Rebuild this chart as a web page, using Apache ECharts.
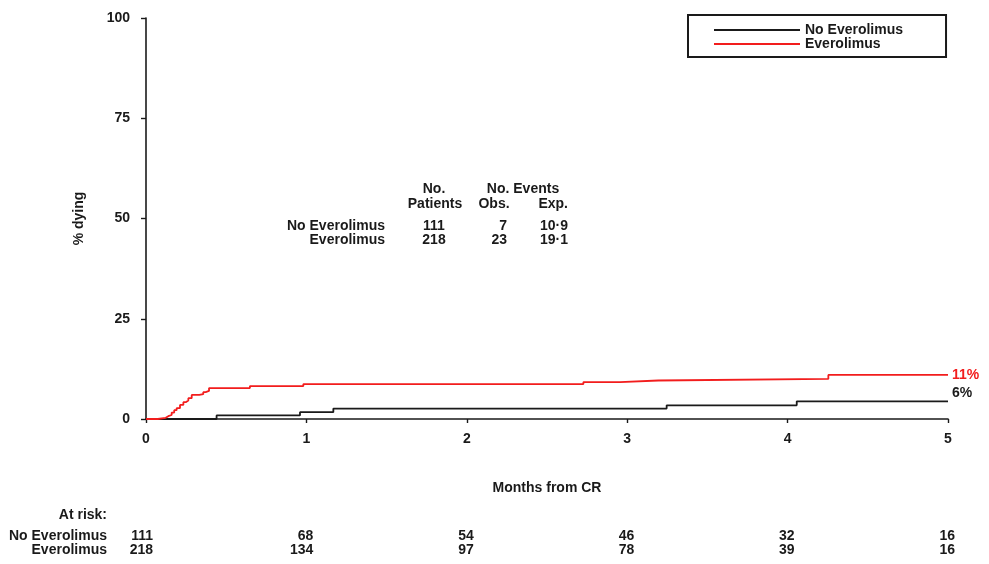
<!DOCTYPE html>
<html>
<head>
<meta charset="utf-8">
<script src="https://cdn.jsdelivr.net/npm/echarts@6/dist/echarts.min.js"></script>
<style>
  html, body { margin: 0; padding: 0; background: #fff; }
  #chart { width: 989px; height: 564px; }
</style>
</head>
<body>
<div id="chart"></div>
<script>
// Cumulative % dying by months from CR (Kaplan–Meier style step curves)
const monthTicks = [0, 1, 2, 3, 4, 5];

const noEveTime = [0, 0.44, 0.96, 1.168, 3.246, 4.057, 5];
const noEvePct  = [0, 0.9, 1.7, 2.6, 3.4, 4.4, 4.4];

const eveTime = [0, 0.073, 0.123, 0.139, 0.160, 0.176, 0.191, 0.212, 0.233, 0.248, 0.264, 0.285,
                 0.332, 0.357, 0.372, 0.393, 0.648, 0.981, 2.727, 2.955, 3.194, 4.254, 5];
const evePct  = [0, 0.3, 0.7, 1.0, 1.6, 2.2, 2.7, 3.5, 4.2, 4.6, 5.2, 6.0,
                 6.2, 6.7, 7.0, 7.7, 8.2, 8.7, 9.2, 9.6, 10.0, 11.0, 11.0];

// Final percentages printed at the right end of each curve
const endLabelText  = ['11%', '6%'];
const endLabelValue = [11, 6];

// Numbers at risk at each month
const groups     = ['No Everolimus', 'Everolimus'];
const atRiskNo   = [111, 68, 54, 46, 32, 16];
const atRiskEve  = [218, 134, 97, 78, 39, 16];

// Summary table
const nPatients = [111, 218];
const obsEvents = [7, 23];
const expEvents = ['10·9', '19·1'];

const FONT = "'Liberation Sans', Arial, Helvetica, sans-serif";
const BLACK = '#1a1a1a';
const RED = '#f21d1d';
const FS = 14;

// Turn (time, value) pairs into a right-continuous step path:
// the value holds until the next event time, then jumps.
function stepPath(times, values) {
  const out = [[times[0], values[0]]];
  for (let i = 1; i < times.length; i++) {
    out.push([times[i], values[i - 1]]);
    out.push([times[i], values[i]]);
  }
  return out;
}

const atRiskData = [];
atRiskNo.forEach((v, i) => atRiskData.push({ value: [monthTicks[i], 0], n: v }));
atRiskEve.forEach((v, i) => atRiskData.push({ value: [monthTicks[i], 1], n: v }));

const txt = (text, x, y, align) => ({
  type: 'text', x, y,
  style: { text, fill: BLACK, font: `bold ${FS}px ${FONT}`, textAlign: align, textVerticalAlign: 'middle' }
});

const graphics = [
  txt('No.', 434, 189, 'center'),
  txt('Patients', 435, 204, 'center'),
  txt('No. Events', 523, 189, 'center'),
  txt('Obs.', 494, 204, 'center'),
  txt('Exp.', 568, 204, 'right'),
  txt('At risk:', 107, 515, 'right')
];
groups.forEach((g, i) => {
  const y = 226 + i * 14;
  graphics.push(txt(g, 385, y, 'right'));
  graphics.push(txt(String(nPatients[i]), 434, y, 'center'));
  graphics.push(txt(String(obsEvents[i]), 507, y, 'right'));
  graphics.push(txt(expEvents[i], 568, y, 'right'));
});

const labelFont = { fontSize: FS, fontWeight: 'bold', color: BLACK, fontFamily: FONT };

const chart = echarts.init(document.getElementById('chart'), null, { renderer: 'canvas' });
chart.setOption({
  animation: false,
  backgroundColor: '#fff',
  textStyle: { fontFamily: FONT, fontWeight: 'bold', color: BLACK },
  grid: [
    { left: 146, right: 41, top: 18, bottom: 145 },
    { left: 146, right: 41, top: 529, height: 28 }
  ],
  xAxis: [
    {
      gridIndex: 0, type: 'value', min: 0, max: 5, interval: 1,
      name: 'Months from CR', nameLocation: 'middle', nameGap: 62,
      nameTextStyle: labelFont,
      axisLine: { lineStyle: { color: BLACK, width: 1.6 } },
      axisTick: { show: true, length: 4, lineStyle: { color: BLACK, width: 1.4 } },
      axisLabel: Object.assign({ margin: 13 }, labelFont),
      splitLine: { show: false }
    },
    { gridIndex: 1, type: 'value', min: 0, max: 5, show: false }
  ],
  yAxis: [
    {
      gridIndex: 0, type: 'value', min: 0, max: 100, interval: 25,
      name: '% dying', nameLocation: 'middle', nameGap: 60, nameRotate: 90,
      nameTextStyle: labelFont,
      axisLine: { show: true, lineStyle: { color: BLACK, width: 1.6 } },
      axisTick: { show: true, length: 5, lineStyle: { color: BLACK, width: 1.4 } },
      axisLabel: Object.assign({ margin: 16 }, labelFont),
      splitLine: { show: false }
    },
    {
      gridIndex: 1, type: 'category', data: groups, inverse: true,
      axisLine: { show: false }, axisTick: { show: false }, splitLine: { show: false },
      axisLabel: Object.assign({ margin: 39, interval: 0 }, labelFont)
    }
  ],
  legend: {
    data: ['No Everolimus', 'Everolimus'],
    orient: 'vertical', left: 688, top: 15,
    padding: [8, 43, 6, 25],
    itemWidth: 86, itemHeight: 14, itemGap: 0,
    itemStyle: { opacity: 0 },
    borderColor: BLACK, borderWidth: 2, borderRadius: 0,
    textStyle: labelFont
  },
  graphic: graphics,
  series: [
    {
      name: 'No Everolimus', type: 'line', symbol: 'none', showSymbol: false,
      xAxisIndex: 0, yAxisIndex: 0,
      data: stepPath(noEveTime, noEvePct),
      lineStyle: { color: BLACK, width: 1.8 }, itemStyle: { color: BLACK }
    },
    {
      name: 'Everolimus', type: 'line', symbol: 'none', showSymbol: false,
      xAxisIndex: 0, yAxisIndex: 0,
      data: stepPath(eveTime, evePct),
      lineStyle: { color: RED, width: 1.8 }, itemStyle: { color: RED }
    },
    {
      name: 'end labels', type: 'scatter', symbolSize: 0,
      xAxisIndex: 0, yAxisIndex: 0, silent: true,
      itemStyle: { opacity: 1 },
      data: endLabelValue.map((v, i) => ({
        value: [5, v],
        label: { color: i === 0 ? RED : BLACK, offset: i === 0 ? [0, 0] : [0, -2] }
      })),
      label: {
        show: true, position: 'right', distance: 4,
        fontSize: FS, fontWeight: 'bold', fontFamily: FONT,
        textBorderWidth: 0,
        formatter: p => endLabelText[p.dataIndex]
      }
    },
    {
      name: 'at risk', type: 'scatter', symbolSize: 0,
      xAxisIndex: 1, yAxisIndex: 1, silent: true,
      itemStyle: { opacity: 1 },
      data: atRiskData,
      label: Object.assign({
        show: true, position: 'left', distance: 0, offset: [7, 0],
        textBorderWidth: 0,
        formatter: p => String(p.data.n)
      }, labelFont)
    }
  ]
});
</script>
</body>
</html>
